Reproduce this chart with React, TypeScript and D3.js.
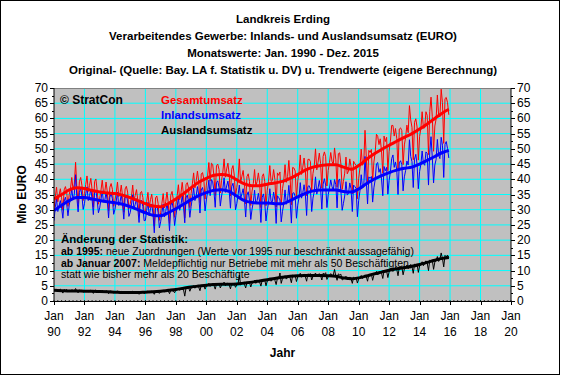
import React from "react";
import * as d3 from "d3";

// ---------- DATA ----------
const titleLines = [
  "Landkreis Erding",
  "Verarbeitendes Gewerbe: Inlands- und Auslandsumsatz (EURO)",
  "Monatswerte: Jan. 1990 - Dez. 2015",
  "Original- (Quelle: Bay. LA f. Statistik u. DV) u. Trendwerte (eigene Berechnung)",
];
const seriesNames = ["Gesamtumsatz", "Inlandsumsatz", "Auslandsumsatz"];
const seriesColors = ["#FF0000", "#0000FF", "#000000"];
const yTicks = [0, 5, 10, 15, 20, 25, 30, 35, 40, 45, 50, 55, 60, 65, 70];
const xTickYears = [1990, 1992, 1994, 1996, 1998, 2000, 2002, 2004, 2006, 2008, 2010, 2012, 2014, 2016, 2018, 2020];
const xTickLabels = ["90", "92", "94", "96", "98", "00", "02", "04", "06", "08", "10", "12", "14", "16", "18", "20"];
const startYear = 1990;

// monthly Inlandsumsatz (Mio EURO), Jan 1990 .. Dec 2015
const inland = [
  26.4, 30.8, 33.6, 29.4, 31.2, 33.0, 30.5, 27.2, 32.8, 34.1, 31.9, 28.0,
  31.5, 33.8, 36.9, 33.2, 35.1, 41.5, 34.0, 29.3, 35.6, 37.2, 34.5, 30.1,
  32.0, 35.2, 37.5, 33.0, 34.6, 36.8, 33.5, 28.4, 35.9, 36.5, 33.1, 29.0,
  30.6, 33.4, 36.2, 32.5, 33.0, 35.7, 32.8, 27.3, 34.1, 35.4, 33.6, 28.5,
  30.1, 32.7, 35.8, 31.4, 32.5, 35.0, 31.6, 26.9, 33.8, 34.6, 32.9, 27.8,
  29.0, 31.5, 34.9, 30.2, 31.8, 33.6, 30.4, 25.8, 32.5, 33.1, 31.0, 26.4,
  26.5, 29.8, 32.4, 28.0, 30.3, 31.9, 28.6, 22.4, 30.8, 31.5, 29.2, 24.0,
  26.0, 29.0, 31.8, 27.6, 29.4, 32.2, 29.0, 23.1, 31.3, 32.6, 30.1, 24.8,
  28.0, 30.9, 34.0, 29.8, 31.5, 34.6, 31.2, 25.7, 33.9, 34.8, 32.6, 27.5,
  31.0, 33.9, 37.1, 33.0, 34.5, 37.6, 34.8, 28.9, 36.5, 37.3, 35.1, 29.6,
  33.2, 35.8, 39.7, 34.6, 39.9, 39.2, 36.0, 30.8, 38.9, 39.5, 37.4, 31.2,
  34.5, 36.9, 40.5, 35.7, 37.8, 39.4, 36.3, 30.5, 37.6, 38.7, 35.8, 30.0,
  32.0, 34.8, 38.1, 33.6, 35.2, 36.9, 33.4, 27.6, 34.8, 35.9, 33.1, 26.8,
  30.2, 32.5, 36.4, 31.9, 33.0, 35.4, 32.6, 25.8, 34.1, 35.2, 32.4, 26.3,
  29.8, 32.4, 36.9, 32.8, 32.6, 35.8, 33.1, 25.5, 34.6, 34.0, 33.2, 26.0,
  29.5, 32.0, 36.5, 31.8, 33.2, 38.0, 32.9, 25.6, 35.4, 35.6, 34.3, 27.2,
  31.5, 34.0, 38.9, 33.8, 35.6, 38.2, 35.0, 28.1, 37.6, 37.9, 36.8, 29.4,
  33.8, 35.9, 40.8, 35.1, 37.0, 39.6, 36.9, 30.2, 38.4, 40.2, 38.1, 30.7,
  34.9, 37.1, 39.8, 37.6, 36.4, 39.9, 38.2, 30.6, 39.5, 40.1, 36.2, 29.8,
  32.1, 34.5, 39.2, 34.8, 35.3, 38.8, 36.9, 29.4, 38.1, 37.6, 37.0, 27.7,
  33.0, 36.1, 41.5, 37.2, 37.5, 47.5, 39.4, 31.9, 40.8, 40.3, 40.9, 32.5,
  37.2, 39.8, 45.1, 45.5, 42.3, 43.5, 40.1, 34.6, 44.2, 42.8, 43.9, 35.1,
  39.6, 42.5, 46.8, 48.0, 43.9, 45.7, 43.1, 35.0, 45.4, 46.1, 44.8, 36.2,
  40.8, 42.9, 46.0, 44.7, 53.0, 47.5, 45.8, 37.3, 46.6, 48.2, 45.0, 36.9,
  42.6, 44.8, 49.3, 45.2, 44.6, 49.0, 48.5, 38.1, 48.9, 54.0, 47.2, 38.8,
  44.7, 46.5, 53.1, 47.9, 46.8, 53.8, 51.2, 40.6, 51.5, 52.4, 50.1, 47.0,
];

// monthly Auslandsumsatz (Mio EURO), Jan 1990 .. Dec 2015
const ausland = [
  3.9, 3.4, 3.8, 3.2, 3.6, 3.9, 3.4, 2.6, 3.7, 3.5, 3.8, 3.1,
  3.5, 3.2, 3.7, 3.4, 3.3, 4.1, 3.2, 2.7, 3.6, 3.4, 3.5, 2.9,
  3.3, 3.1, 3.6, 3.0, 3.4, 3.5, 3.1, 2.5, 3.4, 3.6, 3.2, 2.8,
  3.2, 3.0, 3.5, 3.1, 2.9, 3.4, 3.0, 2.4, 3.3, 3.2, 3.1, 2.6,
  3.0, 2.8, 3.3, 2.9, 2.7, 3.1, 2.8, 2.3, 3.0, 3.1, 2.9, 2.5,
  2.9, 2.7, 3.2, 2.8, 2.9, 3.0, 2.7, 2.2, 3.1, 2.9, 3.0, 2.4,
  2.8, 2.9, 3.3, 2.7, 3.0, 3.2, 2.9, 2.2, 3.1, 3.0, 2.9, 2.5,
  3.0, 3.1, 3.5, 3.0, 3.2, 3.6, 3.3, 2.4, 3.5, 3.4, 3.3, 2.7,
  3.6, 3.7, 4.2, 3.5, 3.9, 4.4, 3.8, 1.6, 4.3, 4.1, 4.5, 3.2,
  4.3, 4.6, 5.0, 4.2, 4.8, 5.1, 4.5, 3.4, 5.2, 4.9, 5.0, 3.9,
  4.9, 5.3, 5.8, 4.8, 5.4, 5.7, 5.1, 3.9, 5.6, 5.5, 5.8, 4.3,
  5.2, 5.5, 6.2, 5.0, 5.6, 5.9, 5.3, 4.0, 5.7, 5.8, 5.6, 4.5,
  5.3, 5.6, 8.6, 5.2, 5.8, 6.0, 5.5, 4.3, 6.1, 5.9, 6.2, 4.6,
  5.9, 6.1, 6.8, 5.8, 6.3, 6.7, 6.2, 4.9, 6.8, 6.6, 6.9, 5.0,
  6.6, 6.9, 7.6, 6.5, 7.0, 7.4, 6.8, 5.4, 7.5, 7.3, 9.2, 5.8,
  7.4, 7.6, 8.3, 7.2, 7.7, 8.2, 7.6, 6.0, 8.5, 8.1, 8.4, 6.4,
  7.9, 8.2, 9.1, 7.8, 8.4, 8.8, 8.0, 6.5, 8.9, 8.7, 9.0, 6.9,
  8.1, 8.5, 9.2, 8.0, 8.6, 9.0, 8.3, 6.9, 9.1, 8.8, 9.3, 7.1,
  8.0, 8.4, 9.0, 8.3, 8.5, 10.4, 8.2, 6.8, 8.9, 8.6, 8.8, 6.9,
  7.2, 7.5, 8.1, 7.0, 7.4, 7.9, 7.3, 5.8, 7.8, 7.5, 7.6, 5.9,
  7.2, 7.6, 8.4, 7.4, 7.8, 8.6, 8.0, 6.5, 8.7, 8.5, 8.9, 6.8,
  8.5, 8.9, 9.7, 8.6, 9.1, 9.8, 9.2, 7.4, 10.0, 9.6, 9.9, 7.7,
  9.6, 10.0, 10.9, 9.7, 10.3, 11.0, 10.4, 8.3, 11.1, 10.8, 11.2, 8.6,
  10.5, 10.9, 11.8, 10.6, 11.2, 12.0, 11.3, 9.1, 12.1, 11.7, 12.2, 9.4,
  11.5, 11.9, 12.9, 11.6, 12.3, 13.2, 12.5, 10.0, 13.4, 13.0, 13.5, 10.4,
  12.8, 13.3, 14.6, 13.0, 13.7, 15.8, 14.0, 11.2, 15.0, 14.5, 15.1, 14.2,
];

// trend values at Jan and Jul of each year, plus Dec 2015
const trendYears = [
  1990, 1990.5, 1991, 1991.5, 1992, 1992.5, 1993, 1993.5, 1994, 1994.5,
  1995, 1995.5, 1996, 1996.5, 1997, 1997.5, 1998, 1998.5, 1999, 1999.5,
  2000, 2000.5, 2001, 2001.5, 2002, 2002.5, 2003, 2003.5, 2004, 2004.5,
  2005, 2005.5, 2006, 2006.5, 2007, 2007.5, 2008, 2008.5, 2009, 2009.5,
  2010, 2010.5, 2011, 2011.5, 2012, 2012.5, 2013, 2013.5, 2014, 2014.5,
  2015, 2015.5, 2015.92,
];
const trendGesamt = [
  33.5, 35, 36.5, 37.2, 37, 36.3, 35.8, 35.5, 35.3, 34.8,
  34, 33, 32, 31.2, 31, 32, 33.5, 35.3, 37.2, 39,
  40.3, 41.3, 41.6, 41.2, 39.8, 38.5, 37.9, 37.9, 38.4, 38.8,
  39.3, 40.3, 41.6, 43, 44, 44.5, 44.8, 44.8, 44, 43.3,
  44.5, 46.5, 48.3, 49.8, 51.2, 52.5, 53.8, 55, 56.5, 58.2,
  60, 61.8, 63,
];
const trendInland = [
  29.7, 31.5, 33, 34, 34, 33.5, 33, 32.6, 32.3, 31.8,
  31, 30, 29, 28.2, 28, 29, 30.3, 31.8, 33.3, 34.6,
  35.6, 36.4, 36.6, 36, 34.5, 33, 32.4, 32.2, 32.2, 32,
  32, 33, 34.2, 35.4, 36.2, 36.5, 36.5, 36.5, 36, 35.8,
  36.8, 38.5, 40, 41.2, 42.2, 43, 43.6, 44, 45, 46.2,
  47.5, 48.8, 49.5,
];
const trendAusland = [
  3.5, 3.4, 3.3, 3.3, 3.2, 3.2, 3.1, 3.0, 2.9, 2.8,
  2.8, 2.8, 2.9, 3.0, 3.2, 3.5, 3.8, 4.2, 4.6, 4.9,
  5.2, 5.4, 5.5, 5.5, 5.6, 5.9, 6.2, 6.6, 7.0, 7.4,
  7.8, 8.1, 8.3, 8.4, 8.4, 8.4, 8.3, 8.1, 7.6, 7.3,
  7.6, 8.2, 8.9, 9.5, 10.1, 10.6, 11.0, 11.4, 12.0, 12.7,
  13.4, 14.0, 14.3,
];

// ---------- LAYOUT ----------
const W = 563;
const H = 377;
const PL = 54, PR = 511, PT = 88, PB = 301;
const FONT = "'Liberation Sans', Arial, Helvetica, sans-serif";

export default function App() {
  const x = d3.scaleLinear().domain([1990, 2020]).range([PL, PR]);
  const y = d3.scaleLinear().domain([0, 70]).range([PB, PT]);

  const gesamt = inland.map((v, i) => v + ausland[i]);
  const raw = [gesamt, inland, ausland];
  const trends = [trendGesamt, trendInland, trendAusland];

  const rawLine = d3
    .line<number>()
    .x((_, i) => x(startYear + i / 12))
    .y((d) => y(d));
  const trendLine = d3
    .line<number>()
    .x((_, i) => x(trendYears[i]))
    .y((d) => y(d))
    .curve(d3.curveMonotoneX);

  const minorY = d3.range(0, 70.01, 2.5);
  const minorX = d3.range(1990, 2020.001, 0.25);

  return (
    <svg
      width={W}
      height={H}
      style={{ position: "absolute", left: 0, top: 0, background: "#fff" }}
      fontFamily={FONT}
    >
      <rect x={0.5} y={0.5} width={559} height={374} fill="#fff" stroke="#000" strokeWidth={1} />

      {titleLines.map((t, i) => (
        <text key={i} x={283} y={23 + i * 17} textAnchor="middle" fontSize={11.5} fontWeight="bold">
          {t}
        </text>
      ))}

      <defs>
        <clipPath id="plotClip">
          <rect x={PL} y={PT - 1} width={PR - PL} height={PB - PT + 1} />
        </clipPath>
      </defs>

      {/* plot area */}
      <rect x={PL} y={PT} width={PR - PL} height={PB - PT} fill="#C0C0C0" />
      {yTicks.slice(1, -1).map((t) => (
        <line key={"gy" + t} x1={PL} x2={PR} y1={y(t)} y2={y(t)} stroke="#00FFFF" strokeWidth={1} />
      ))}
      {xTickYears.slice(1, -1).map((t) => (
        <line key={"gx" + t} x1={x(t)} x2={x(t)} y1={PT} y2={PB} stroke="#00FFFF" strokeWidth={1} />
      ))}
      <line x1={PL} x2={PR} y1={PT + 0.5} y2={PT + 0.5} stroke="#808080" strokeWidth={1} />

      {/* annotations */}
      <text x={60} y={104} fontSize={12} fontWeight="bold">© StratCon</text>
      {seriesNames.map((n, i) => (
        <text key={n} x={161} y={104 + i * 15} fontSize={11.5} fontWeight="bold" fill={seriesColors[i]}>
          {n}
        </text>
      ))}
      <text x={61} y={243} fontSize={11.5} fontWeight="bold">Änderung der Statistik:</text>
      <text x={61} y={255} fontSize={10.5}>
        <tspan fontWeight="bold">ab 1995:</tspan>
        <tspan>{"  neue Zuordnungen (Werte vor 1995 nur beschränkt aussagefähig)"}</tspan>
      </text>
      <text x={61} y={267} fontSize={10.5}>
        <tspan fontWeight="bold">ab Januar 2007:</tspan>
        <tspan>{"  Meldepflichtig nur Betriebe mit mehr als 50 Beschäftigten,"}</tspan>
      </text>
      <text x={61} y={278} fontSize={10.5}>statt wie bisher mehr als  20 Beschäftigte</text>

      {/* data */}
      <g clipPath="url(#plotClip)">
        {raw.map((s, i) => (
          <path key={"r" + i} d={rawLine(s) || ""} fill="none" stroke={seriesColors[i]} strokeWidth={1} />
        ))}
        {trends.map((s, i) => (
          <path key={"t" + i} d={trendLine(s) || ""} fill="none" stroke={seriesColors[i]} strokeWidth={3} />
        ))}
      </g>

      {/* axes */}
      <line x1={PL} x2={PL} y1={PT} y2={PB} stroke="#000" />
      <line x1={PR} x2={PR} y1={PT} y2={PB} stroke="#000" />
      <line x1={PL} x2={PR} y1={PB + 0.5} y2={PB + 0.5} stroke="#000" />
      {minorY.map((t) => (
        <g key={"my" + t}>
          <line x1={PL - (t % 5 === 0 ? 4 : 2)} x2={PL} y1={Math.round(y(t)) + 0.5} y2={Math.round(y(t)) + 0.5} stroke="#000" />
          <line x1={PR} x2={PR + (t % 5 === 0 ? 4 : 2)} y1={Math.round(y(t)) + 0.5} y2={Math.round(y(t)) + 0.5} stroke="#000" />
        </g>
      ))}
      {yTicks.map((t) => (
        <g key={"yl" + t}>
          <text x={PL - 6} y={y(t) + 4} textAnchor="end" fontSize={12}>{t}</text>
          <text x={PR + 6} y={y(t) + 4} textAnchor="start" fontSize={12}>{t}</text>
        </g>
      ))}
      {minorX.map((t) => (
        <line key={"mx" + t} x1={x(t)} x2={x(t)} y1={PB - 1} y2={PB} stroke="#000" strokeWidth={0.8} />
      ))}
      {xTickYears.map((t, i) => (
        <g key={"xt" + t}>
          <line x1={Math.round(x(t)) + 0.5} x2={Math.round(x(t)) + 0.5} y1={PB} y2={PB + 4} stroke="#000" />
          <text x={x(t)} y={320} textAnchor="middle" fontSize={12}>Jan</text>
          <text x={x(t)} y={336} textAnchor="middle" fontSize={12}>{xTickLabels[i]}</text>
        </g>
      ))}
      <text x={(PL + PR) / 2} y={357} textAnchor="middle" fontSize={12} fontWeight="bold">Jahr</text>
      <text
        transform={`translate(26, ${(PT + PB) / 2}) rotate(-90)`}
        textAnchor="middle"
        fontSize={12}
        fontWeight="bold"
      >
        Mio EURO
      </text>
    </svg>
  );
}
